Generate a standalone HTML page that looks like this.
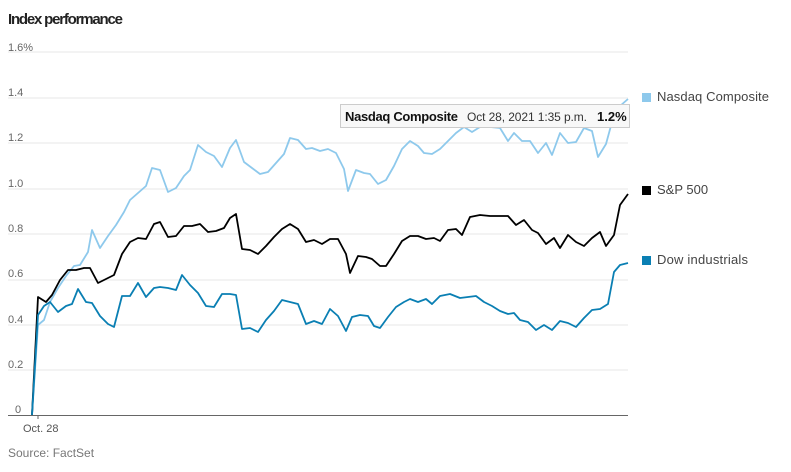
<!DOCTYPE html>
<html><head><meta charset="utf-8"><style>
body{margin:0;background:#fff;width:791px;height:467px;overflow:hidden}
text{font-family:"Liberation Sans",sans-serif}
</style></head><body>
<svg width="791" height="467" viewBox="0 0 791 467" xmlns="http://www.w3.org/2000/svg">
<text x="8" y="24" font-size="15" font-weight="bold" fill="#222" textLength="115">Index performance</text>
<g stroke="#ececec" stroke-width="1.2">
<line x1="8" x2="628" y1="52" y2="52"/><line x1="8" x2="628" y1="98" y2="98"/>
<line x1="8" x2="628" y1="143" y2="143"/><line x1="8" x2="628" y1="189" y2="189"/>
<line x1="8" x2="628" y1="234" y2="234"/><line x1="8" x2="628" y1="280" y2="280"/>
<line x1="8" x2="628" y1="325" y2="325"/><line x1="8" x2="628" y1="370" y2="370"/>
</g>
<g font-size="11" fill="#666">
<text x="8" y="51">1.6%</text><text x="8" y="96">1.4</text><text x="8" y="141">1.2</text>
<text x="8" y="187">1.0</text><text x="8" y="232">0.8</text><text x="8" y="277">0.6</text>
<text x="8" y="323">0.4</text><text x="8" y="368">0.2</text><text x="15" y="413">0</text>
</g>
<line x1="8" x2="628" y1="415.5" y2="415.5" stroke="#666" stroke-width="1"/>
<line x1="38" x2="38" y1="415" y2="419" stroke="#666"/>
<text x="23" y="432" font-size="11" fill="#555">Oct. 28</text>
<text x="8" y="457" font-size="12" fill="#777">Source: FactSet</text>
<g fill="none" stroke-width="1.8" stroke-linejoin="round">
<polyline stroke="#8ec9ec" points="32,415 38,325 44,320 50,302 58,288 66,276 74,266 80,265 88,252 92,230 100,248 108,236 116,225 124,212 130,200 138,193 146,186 152,168 160,170 168,192 176,188 184,176 190,170 198,145 206,152 214,156 222,167 230,148 236,140 244,162 252,168 260,174 268,172 276,163 284,154 290,138 298,140 306,149 312,148 320,151 328,149 336,153 344,169 348,191 356,170 364,173 370,174 378,184 386,180 394,166 402,149 410,141 418,146 424,153 432,154 440,149 448,141 456,133 464,127 472,132 480,127 490,127 500,128 508,141 514,133 522,141 530,141 538,153 546,143 552,155 560,133 568,143 576,142 584,128 592,131 598,157 606,144 612,122 620,106 628,99"/>
<polyline stroke="#000" points="32,415 38,297 46,302 52,295 60,280 68,270 76,270 84,268 90,268 98,283 106,279 114,275 122,254 130,242 138,238 146,239 154,224 160,222 168,237 176,236 184,226 192,226 200,224 208,232 216,231 224,228 230,218 236,214 242,249 250,250 258,254 266,246 274,237 282,229 290,224 298,229 306,242 314,240 322,244 330,239 338,239 346,254 350,273 358,256 366,257 372,259 380,266 386,266 394,254 402,241 410,236 418,236 426,239 434,238 440,241 448,230 456,229 462,235 470,217 480,215 490,216 500,216 508,216 516,225 524,220 532,230 538,233 546,244 554,238 560,248 568,235 576,242 584,246 592,238 600,232 606,246 614,235 620,205 628,194"/>
<polyline stroke="#0a7fb3" points="32,415 38,315 44,306 50,302 58,312 66,306 72,304 78,289 86,302 92,303 100,316 108,324 114,327 122,296 130,296 138,283 146,297 154,288 160,287 168,288 176,290 182,275 190,285 198,293 206,306 214,307 222,294 230,294 236,295 242,329 250,328 258,332 266,320 274,311 282,300 290,302 298,304 306,324 314,321 322,324 330,309 338,316 346,331 352,317 360,315 368,316 374,326 380,328 388,317 396,307 404,302 410,299 418,302 426,299 432,304 440,296 450,294 460,298 468,297 476,296 484,302 492,306 500,311 508,314 514,313 520,320 528,322 536,330 544,325 552,330 560,321 568,323 576,327 584,318 592,310 600,309 608,304 614,272 620,265 628,263"/>
</g>
<rect x="340.5" y="104.5" width="289" height="23" fill="#f8f8f8" stroke="#ccc"/>
<text x="345" y="121" font-size="13" font-weight="bold" fill="#111" textLength="113">Nasdaq Composite</text>
<text x="467" y="121" font-size="12" fill="#333" textLength="120">Oct 28, 2021 1:35 p.m.</text>
<text x="597" y="121" font-size="13" font-weight="bold" fill="#111">1.2%</text>
<rect x="642" y="93" width="9" height="9" fill="#8ec9ec"/>
<rect x="642" y="186" width="9" height="9" fill="#000"/>
<rect x="642" y="256" width="9" height="9" fill="#0a7fb3"/>
<g font-size="13" fill="#444">
<text x="657" y="101" textLength="112">Nasdaq Composite</text>
<text x="657" y="194">S&amp;P 500</text>
<text x="657" y="264" textLength="91">Dow industrials</text>
</g>
</svg>
</body></html>
